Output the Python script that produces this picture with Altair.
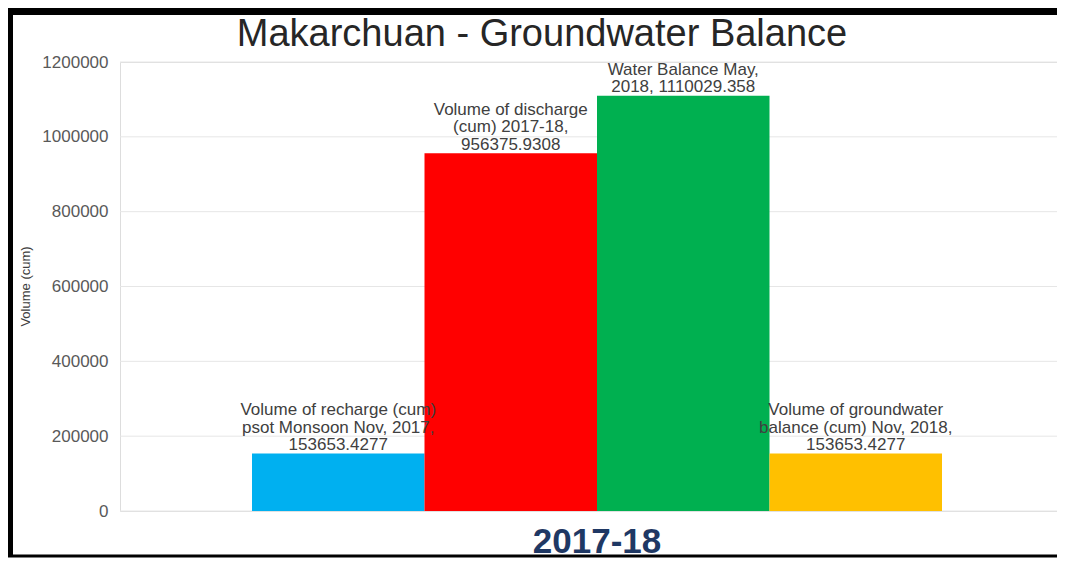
import altair as alt
import pandas as pd

years = ["2017-18"] * 4
series = ["Recharge", "Discharge", "Water Balance", "GW Balance"]
values = [153653.4277, 956375.9308, 1110029.358, 153653.4277]
label_lines = [
    ["Volume of recharge (cum)", "psot Monsoon Nov, 2017,", "153653.4277"],
    ["Volume of discharge", "(cum) 2017-18,", "956375.9308"],
    ["Water Balance May,", "2018, 1110029.358"],
    ["Volume of groundwater", "balance (cum) Nov, 2018,", "153653.4277"],
]
colors = ["#00B0F0", "#FF0000", "#00B050", "#FFC000"]
y_ticks = [0, 200000, 400000, 600000, 800000, 1000000, 1200000]
title_text = "Makarchuan - Groundwater Balance"

df = pd.DataFrame({"year": years, "series": series, "value": values})

rows = []
for yr, s, v, lines in zip(years, series, values, label_lines):
    n = len(lines)
    for i, ln in enumerate(lines):
        rows.append({"year": yr, "series": s, "value": v, "line": ln, "k": n - 1 - i})
ldf = pd.DataFrame(rows)
tdf = pd.DataFrame({"tick": y_ticks})

FONT = "Liberation Sans"
LH = 17.5

x_scale = alt.Scale(range=[132, 822], paddingInner=0, paddingOuter=0)
x_enc = alt.X(
    "year:N",
    title=None,
    scale=x_scale,
    axis=alt.Axis(
        labelFontSize=35, labelFontWeight="bold", labelColor="#1F3864",
        labelPadding=13, ticks=False, domain=False, grid=False, labelAngle=0,
        labelFont=FONT,
    ),
)
xoff = alt.XOffset("series:N", sort=series,
                   scale=alt.Scale(paddingInner=0, paddingOuter=0))
y_scale = alt.Scale(domain=[0, 1200000], nice=False)

grid = alt.Chart(tdf).mark_rule(color="#E6E6E6", strokeWidth=1).encode(
    y=alt.Y("tick:Q", scale=y_scale),
    x=alt.value(0), x2=alt.value(937),
)

bars = alt.Chart(df).mark_bar().encode(
    x=x_enc,
    xOffset=xoff,
    y=alt.Y(
        "value:Q",
        scale=y_scale,
        axis=alt.Axis(
            values=y_ticks, format="d", title="Volume (cum)",
            titleFontSize=13, titleFontWeight="normal", titleColor="#404040",
            titleX=-95, titleY=224, titleAngle=-90, titleAlign="center",
            titleBaseline="middle", titleFont=FONT,
            labelFontSize=17, labelColor="#595959", labelPadding=12,
            labelFont=FONT, ticks=False, domain=False, grid=False,
        ),
    ),
    color=alt.Color("series:N", sort=series,
                    scale=alt.Scale(domain=series, range=colors), legend=None),
)

text_layers = []
for k in range(3):
    text_layers.append(
        alt.Chart(ldf).transform_filter(alt.datum.k == k).mark_text(
            baseline="alphabetic", align="center", fontSize=17,
            color="#404040", font=FONT, dy=-3.5 - k * LH,
        ).encode(
            x=alt.X("year:N"),
            xOffset=alt.XOffset("series:N", sort=series),
            y="value:Q",
            text="line:N",
        )
    )

frame_data = alt.Data(values=[{"f": 1}])
title = alt.Chart(frame_data).mark_text(
    fontSize=38, font=FONT, color="#262626", align="center", baseline="alphabetic"
).encode(x=alt.value(422), y=alt.value(-16), text=alt.value(title_text))
top_rule = alt.Chart(frame_data).mark_rule(color="black", strokeWidth=8).encode(
    x=alt.value(-112), x2=alt.value(937), y=alt.value(-51))
left_rule = alt.Chart(frame_data).mark_rule(color="black", strokeWidth=7).encode(
    x=alt.value(-110.5), y=alt.value(-55), y2=alt.value(495))
bottom_rule = alt.Chart(frame_data).mark_rule(color="black", strokeWidth=3).encode(
    x=alt.value(-112), x2=alt.value(937), y=alt.value(494))

chart = alt.layer(grid, bars, *text_layers, title, top_rule, left_rule, bottom_rule).properties(
    width=937,
    height=449,
    padding={"left": 112, "top": 54, "right": 0, "bottom": 47},
    autosize=alt.AutoSizeParams(type="none"),
).configure_view(stroke=None).configure(background="white")

chart.save("out.html", embed_options={"renderer": "svg", "actions": False})
